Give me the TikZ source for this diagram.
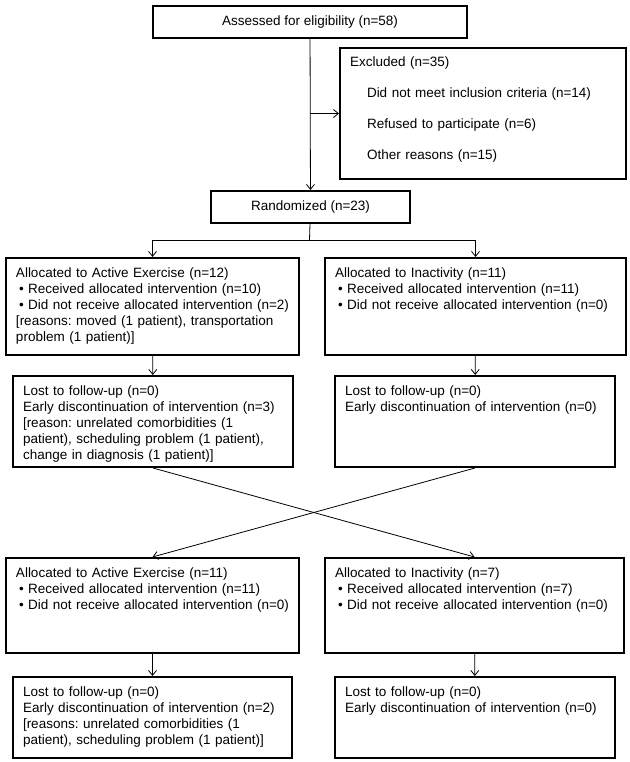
\documentclass[tikz,border=0pt]{standalone}
\usepackage{fontspec}
\setmainfont{Liberation Sans}
\usetikzlibrary{arrows.meta}
\frenchspacing

\begin{document}
\begin{tikzpicture}[x=1pt, y=-1pt,
    font=\fontsize{13.5}{16}\selectfont,
    box/.style={draw, line width=2pt, anchor=north west, align=left,
      inner xsep=10pt, inner ysep=7pt, text height=12pt},
    midbox/.style={draw, line width=2pt, anchor=north west,
      minimum height=32pt, inner sep=0pt},
    arr/.style={line width=0.8pt, -{Straight Barb[length=5pt, width=8pt]}}]
  \useasboundingbox (0,0) rectangle (629,762);

  \node[midbox, minimum width=314pt] (assessed) at (152,5) {Assessed for eligibility (n=58)};
  \node[box, text width=266pt, text depth=105pt] (excluded) at (339,47)
    {Excluded (n=35)\\[15pt]
     \hspace*{17pt}Did not meet inclusion criteria (n=14)\\[15pt]
     \hspace*{17pt}Refused to participate (n=6)\\[15pt]
     \hspace*{17pt}Other reasons (n=15)};
  \node[midbox, minimum width=199pt] (randomized) at (210,190) {Randomized (n=23)};
  \coordinate (split) at (309.5,240);

  \node[box, text width=273pt, text depth=71pt] (ae1) at (5,257)
    {Allocated to Active Exercise (n=12)\\
     \hspace*{3pt}• Received allocated intervention (n=10)\\
     \hspace*{3pt}• Did not receive allocated intervention (n=2)\\\relax
     [reasons: moved (1 patient), transportation\\
     problem (1 patient)]};
  \node[box, text width=281pt, text depth=71pt] (ai1) at (324,257)
    {Allocated to Inactivity (n=11)\\
     \hspace*{3pt}• Received allocated intervention (n=11)\\
     \hspace*{3pt}• Did not receive allocated intervention (n=0)};
  \node[box, text width=260pt, text depth=65pt] (lf1) at (12,375)
    {Lost to follow-up (n=0)\\
     Early discontinuation of intervention (n=3)\\\relax
     [reason: unrelated comorbidities (1\\
     patient), scheduling problem (1 patient),\\
     change in diagnosis (1 patient)]};
  \node[box, text width=260pt, text depth=65pt] (lf2) at (334,375)
    {Lost to follow-up (n=0)\\
     Early discontinuation of intervention (n=0)};

  \node[box, text width=273pt, text depth=69pt] (ae2) at (5,557)
    {Allocated to Active Exercise (n=11)\\
     \hspace*{3pt}• Received allocated intervention (n=11)\\
     \hspace*{3pt}• Did not receive allocated intervention (n=0)};
  \node[box, text width=279pt, text depth=69pt] (ai2) at (324,557)
    {Allocated to Inactivity (n=7)\\
     \hspace*{3pt}• Received allocated intervention (n=7)\\
     \hspace*{3pt}• Did not receive allocated intervention (n=0)};
  \node[box, text width=259pt, text depth=55pt] (lf3) at (12,676)
    {Lost to follow-up (n=0)\\
     Early discontinuation of intervention (n=2)\\\relax
     [reasons: unrelated comorbidities (1\\
     patient), scheduling problem (1 patient)]};
  \node[box, text width=260pt, text depth=55pt] (lf4) at (334,676)
    {Lost to follow-up (n=0)\\
     Early discontinuation of intervention (n=0)};

  \draw[arr] (assessed) -- (randomized);
  \draw[arr] (assessed.south |- excluded.west) -- (excluded.west);
  \draw[line width=0.8pt] (randomized) -- (split);
  \draw[arr] (split) -| (ae1.north);
  \draw[arr] (split) -| (ai1.north);
  \draw[arr] (ae1) -- (lf1);
  \draw[arr] (ai1) -- (lf2);
  \draw[arr] (lf1.south) -- (ai2.north);
  \draw[arr] (lf2.south) -- (ae2.north);
  \draw[arr] (ae2) -- (lf3);
  \draw[arr] (ai2) -- (lf4);
\end{tikzpicture}
\end{document}
